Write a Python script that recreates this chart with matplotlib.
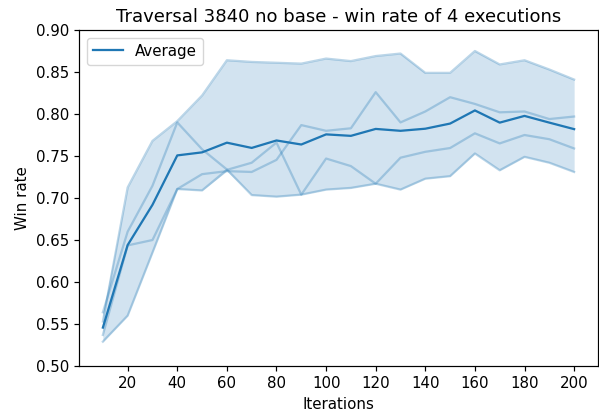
import numpy as np
import matplotlib
matplotlib.use("Agg")
import matplotlib.pyplot as plt

iterations = list(range(10, 201, 10))

run_1 = [0.553, 0.7126, 0.768, 0.7915, 0.822, 0.864, 0.862, 0.861, 0.860, 0.866,
         0.863, 0.869, 0.872, 0.849, 0.849, 0.875, 0.859, 0.864, 0.853, 0.841]
run_2 = [0.564, 0.660, 0.7146, 0.790, 0.758, 0.734, 0.7035, 0.7016, 0.704, 0.710,
         0.712, 0.717, 0.710, 0.723, 0.726, 0.753, 0.733, 0.749, 0.742, 0.731]
run_3 = [0.537, 0.6436, 0.650, 0.7107, 0.709, 0.7335, 0.742, 0.766, 0.704, 0.747,
         0.738, 0.717, 0.748, 0.755, 0.7595, 0.777, 0.765, 0.775, 0.770, 0.759]
run_4 = [0.529, 0.560, 0.635, 0.7107, 0.7284, 0.732, 0.731, 0.7454, 0.7868, 0.780,
         0.783, 0.826, 0.790, 0.803, 0.820, 0.812, 0.802, 0.803, 0.794, 0.797]

runs = np.array([run_1, run_2, run_3, run_4])
x = np.array(iterations)
avg = runs.mean(axis=0)
lo = runs.min(axis=0)
hi = runs.max(axis=0)

s = 1.08
plt.rcParams.update({
    "font.size": 10 * s,
    "axes.titlesize": 12 * s,
    "axes.labelsize": 10 * s,
    "xtick.labelsize": 10 * s,
    "ytick.labelsize": 10 * s,
    "legend.fontsize": 10 * s,
    "axes.linewidth": 0.8 * s,
    "xtick.major.width": 0.8 * s,
    "ytick.major.width": 0.8 * s,
    "xtick.major.size": 3.5 * s,
    "ytick.major.size": 3.5 * s,
})

color = "#1f77b4"
fig = plt.figure(figsize=(5.99, 4.15), dpi=100)
ax = fig.add_axes([0.1324, 0.118, 0.8654, 0.8097])

ax.fill_between(x, lo, hi, color=color, alpha=0.2, linewidth=0)
for r in runs:
    ax.plot(x, r, color=color, alpha=0.3, linewidth=1.5 * s)
ax.plot(x, avg, color=color, linewidth=1.5 * s, label="Average")

ax.set_ylim(0.5, 0.9)
ax.set_xticks([20, 40, 60, 80, 100, 120, 140, 160, 180, 200])
ax.set_yticks(np.arange(0.5, 0.901, 0.05))
ax.yaxis.set_major_formatter(matplotlib.ticker.FormatStrFormatter("%.2f"))
ax.set_xlabel("Iterations")
ax.set_ylabel("Win rate")
ax.set_title("Traversal 3840 no base - win rate of 4 executions")
ax.legend(loc="upper left")

fig.savefig("out.png", dpi=100)
